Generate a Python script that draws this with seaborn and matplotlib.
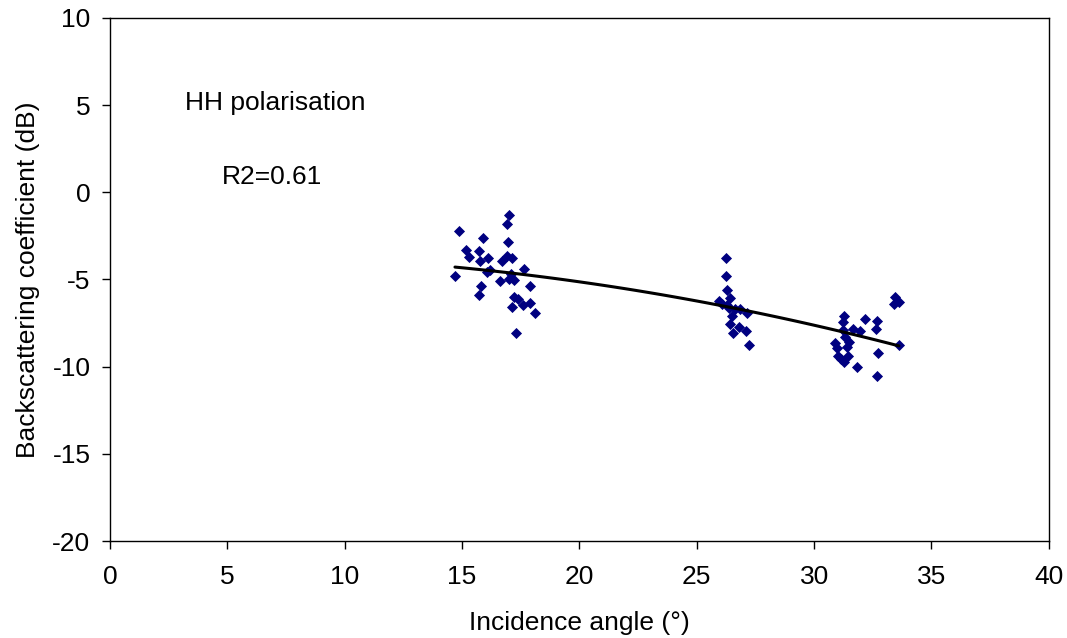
import matplotlib
matplotlib.use("Agg")
import matplotlib.pyplot as plt
import seaborn as sns
import numpy as np
import pandas as pd

# Incidence angle (deg) and HH backscatter (dB)
angle = [
    17.0, 16.91, 14.87, 15.89, 16.95, 15.17, 15.72, 15.29, 16.10, 15.76,
    16.70, 16.91, 17.12, 17.64, 14.70, 16.06, 16.19, 16.61, 17.08, 17.00,
    17.21, 15.80, 17.89, 15.72, 17.21, 17.38, 17.12, 17.59, 17.89, 18.10,
    17.29,
    26.24, 26.24, 26.28, 26.41, 25.94, 26.07, 26.28, 26.37, 26.62, 26.84,
    27.13, 26.50, 26.41, 26.79, 27.09, 26.54, 27.22,
    33.44, 33.40, 33.61, 31.27, 32.16, 32.67, 31.22, 31.65, 31.95, 32.63,
    31.22, 31.31, 33.61, 30.88, 31.48, 31.40, 30.97, 31.01, 31.44, 32.72,
    31.27, 31.14, 31.82, 32.67,
]
sigma_hh = [
    -1.30, -1.82, -2.22, -2.62, -2.85, -3.31, -3.37, -3.71, -3.77, -3.94,
    -3.94, -3.65, -3.77, -4.40, -4.80, -4.57, -4.46, -5.09, -4.69, -4.97,
    -5.03, -5.37, -5.37, -5.89, -6.00, -6.12, -6.58, -6.46, -6.35, -6.92,
    -8.07,
    -3.77, -4.80, -5.60, -6.06, -6.23, -6.41, -6.46, -6.63, -6.69, -6.69,
    -6.92, -7.09, -7.55, -7.72, -7.95, -8.07, -8.76,
    -6.00, -6.41, -6.29, -7.09, -7.27, -7.38, -7.44, -7.84, -7.95, -7.84,
    -7.90, -8.30, -8.76, -8.64, -8.59, -8.87, -8.93, -9.39, -9.39, -9.22,
    -9.73, -9.56, -10.02, -10.54,
]

# 2nd order polynomial trend (a*x^2 + b*x + c), as drawn in the reference
trend_coef = [-0.00583, 0.0427, -3.659]

df = pd.DataFrame({"angle": angle, "sigma": sigma_hh})
xs = np.linspace(min(angle), max(angle), 100)
trend = pd.DataFrame({"angle": xs, "sigma": np.polyval(trend_coef, xs)})

sns.set_style("white")
plt.rcParams["font.family"] = ["Liberation Sans", "DejaVu Sans"]
plt.rcParams["axes.unicode_minus"] = False
for key in ["text.color", "axes.labelcolor", "xtick.color", "ytick.color"]:
    plt.rcParams[key] = "black"

fig, ax = plt.subplots(figsize=(10.67, 6.38), dpi=100)
fig.subplots_adjust(left=0.103, right=0.983, top=0.972, bottom=0.152)

sns.scatterplot(data=df, x="angle", y="sigma", marker="D", s=32,
                color="#000080", edgecolor="#000080", linewidth=0, ax=ax,
                zorder=3)
sns.lineplot(data=trend, x="angle", y="sigma", color="black", lw=2.2,
             ax=ax, zorder=4)

ax.set_xlim(0, 40)
ax.set_ylim(-20, 10)
ax.set_xticks(np.arange(0, 41, 5))
ax.set_yticks(np.arange(-20, 11, 5))
ax.tick_params(axis="x", direction="out", length=6, width=1, labelsize=19,
               pad=11, bottom=True)
ax.tick_params(axis="y", direction="out", length=6, width=1, labelsize=19,
               pad=8, left=True)
for sp in ax.spines.values():
    sp.set_color("black")
    sp.set_linewidth(1)

ax.set_xlabel("Incidence angle (°)", fontsize=19, labelpad=16)
ax.set_ylabel("Backscattering coefficient (dB)", fontsize=19, labelpad=9)

ax.text(3.2, 5.1, "HH polarisation", fontsize=19, va="center")
ax.text(4.75, 0.9, "R2=0.61", fontsize=19, va="center")

plt.savefig("out.png", dpi=100)
plt.close()
